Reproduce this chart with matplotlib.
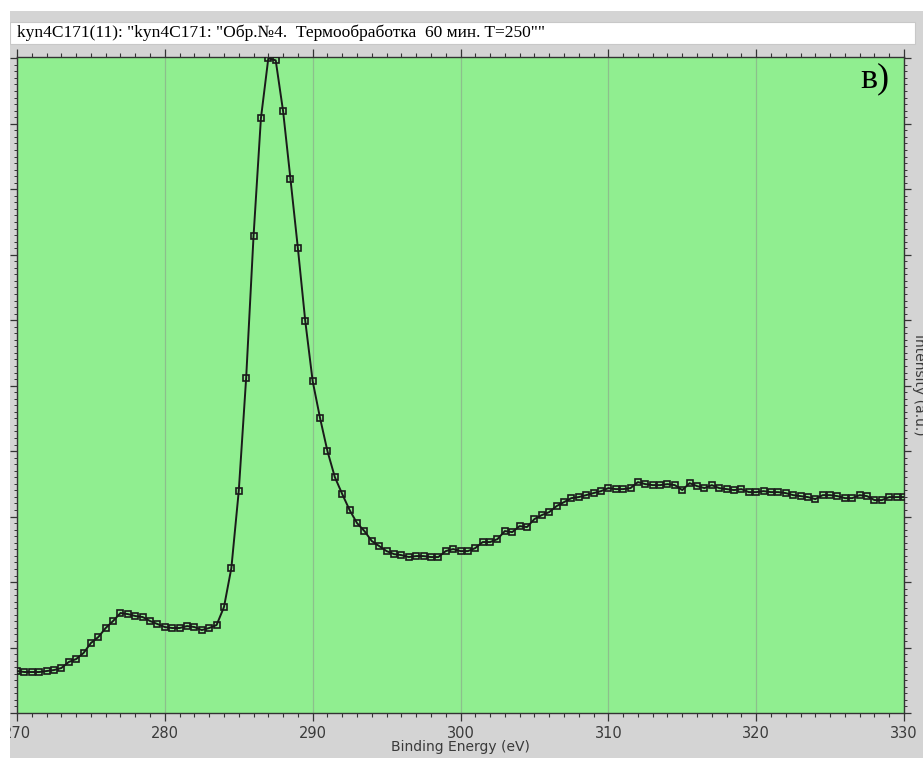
import matplotlib
matplotlib.use('Agg')
import matplotlib.pyplot as plt
import numpy as np
from matplotlib.patches import Rectangle
from matplotlib.ticker import MultipleLocator

# C 1s region, binding energy scale (eV), step 0.5 eV
energy_start = 270.0
energy_stop = 330.0
energy_step = 0.5

# Intensity (a.u.), one value per energy step
intensity_270_283 = [641, 626, 626, 626, 641, 656, 687, 779, 824, 916, 1069, 1160, 1298, 1405,
                     1527, 1511, 1481, 1466, 1405, 1359, 1313, 1298, 1298, 1328, 1313, 1267, 1298, 1344]
intensity_284_297 = [1618, 2214, 3389, 5114, 7282, 9084, 10000, 9969, 9191, 8153, 7099, 5985, 5069, 4504,
                     4000, 3603, 3344, 3099, 2901, 2779, 2626, 2550, 2473, 2427, 2412, 2382, 2397, 2397]
intensity_298_311 = [2382, 2382, 2473, 2504, 2473, 2473, 2519, 2611, 2611, 2656, 2779, 2763, 2855, 2840,
                     2962, 3023, 3069, 3160, 3221, 3282, 3298, 3328, 3359, 3389, 3435, 3420, 3420, 3435]
intensity_312_325 = [3527, 3496, 3481, 3481, 3496, 3481, 3405, 3511, 3466, 3435, 3481, 3435, 3420, 3405,
                     3420, 3374, 3374, 3389, 3374, 3374, 3359, 3328, 3313, 3298, 3267, 3328, 3328, 3313]
intensity_326_330 = [3282, 3282, 3328, 3313, 3252, 3252, 3298, 3298, 3298]

intensity = intensity_270_283 + intensity_284_297 + intensity_298_311 + intensity_312_325 + intensity_326_330
energy = np.arange(energy_start, energy_stop + energy_step / 2, energy_step)

header_text = 'kyn4C171(11): "kyn4C171: "Обр.№4.  Термообработка  60 мин. T=250""'
panel_label = 'в)'
x_label = 'Binding Energy (eV)'
y_label = 'Intensity (a.u.)'

W, H = 923, 758
PANEL_GRAY = '#d4d4d4'
PLOT_GREEN = '#90ee90'
TEXT_GRAY = '#3a3a3a'

fig = plt.figure(figsize=(W / 100, H / 100), dpi=100, facecolor='white')

# gray window panel and the white header box
fig.patches.append(Rectangle((10 / W, 0), 1 - 10 / W, 1 - 11 / H, transform=fig.transFigure,
                             facecolor=PANEL_GRAY, edgecolor='none', zorder=-10))
fig.patches.append(Rectangle((10 / W, 1 - 44 / H), 905 / W, 22 / H, transform=fig.transFigure,
                             facecolor='white', edgecolor='#c8c8c8', linewidth=0.8, zorder=-5))
fig.text(17 / W, 1 - 33 / H, header_text, family='Liberation Serif', fontsize=12.5,
         color='black', ha='left', va='center')

ax = fig.add_axes([17 / W, 45 / H, 887 / W, 656 / H])
ax.set_facecolor(PLOT_GREEN)

ax.plot(energy, intensity, color='#1a1a1a', linewidth=1.4, marker='s', markersize=4,
        markerfacecolor='none', markeredgecolor='#1a1a1a', markeredgewidth=1.2, zorder=3)

ax.set_xlim(energy_start, energy_stop)
ax.set_ylim(0, 10020)

ax.xaxis.set_major_locator(MultipleLocator(10))
ax.xaxis.set_minor_locator(MultipleLocator(1))
ax.yaxis.set_major_locator(MultipleLocator(1000))
ax.yaxis.set_minor_locator(MultipleLocator(100))

ax.tick_params(axis='both', which='both', direction='out', top=True, right=True,
               colors='#333333', labelcolor=TEXT_GRAY, labelleft=False, labeltop=False,
               labelright=False)
ax.tick_params(axis='x', which='major', length=6, width=0.9, labelsize=10.5, pad=3)
ax.tick_params(axis='x', which='minor', length=3, width=0.8)
ax.tick_params(axis='y', which='major', length=5, width=0.9)
ax.tick_params(axis='y', which='minor', length=2.5, width=0.7)

for spine in ax.spines.values():
    spine.set_color('#333333')
    spine.set_linewidth(1.0)

ax.grid(True, axis='x', which='major', color='#8cbf8c', linewidth=0.9)
ax.set_axisbelow(True)

ax.set_xlabel(x_label, fontsize=10, color=TEXT_GRAY, labelpad=0)
fig.text(912 / W, 45 / H + 328 / H, y_label, rotation=270, fontsize=10, color=TEXT_GRAY,
         ha='left', va='center')

ax.text(0.984, 0.992, panel_label, transform=ax.transAxes, family='Liberation Serif',
        fontsize=26, ha='right', va='top', color='black')

# white strip so the window edge clips the first tick label
fig.patches.append(Rectangle((0, 0), 10 / W, 1, transform=fig.transFigure,
                             facecolor='white', edgecolor='none', zorder=10))

fig.savefig('out.png', dpi=100, facecolor='white')
